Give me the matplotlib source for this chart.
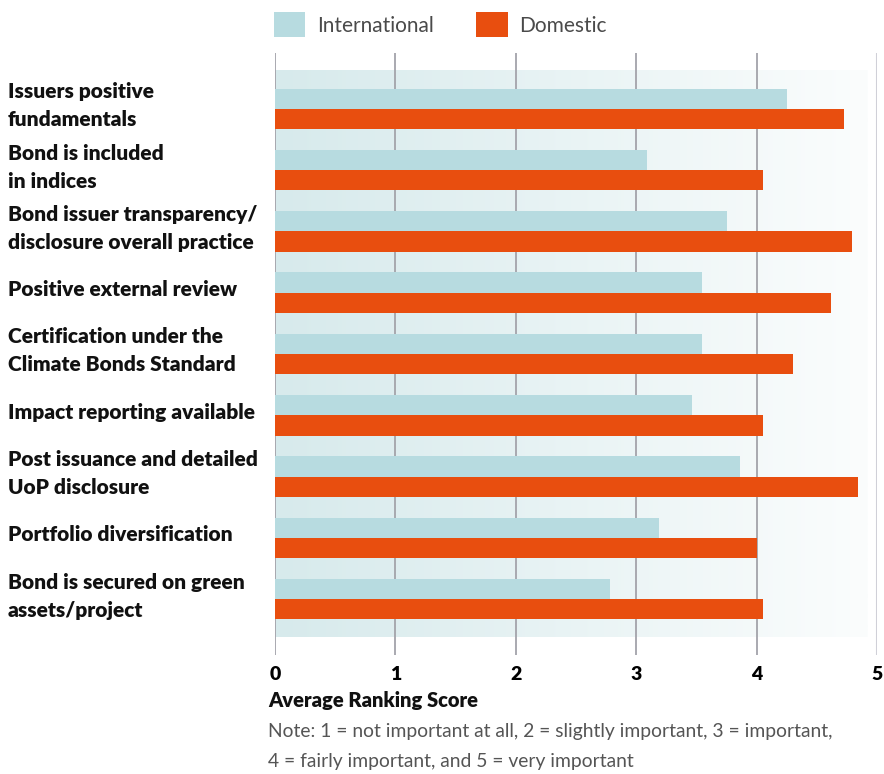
import numpy as np
import matplotlib
matplotlib.use("Agg")
import matplotlib.pyplot as plt
import matplotlib.transforms as mtransforms
from matplotlib.colors import LinearSegmentedColormap

# survey factors, top to bottom
factors = [
    "Issuers positive\nfundamentals",
    "Bond is included\nin indices",
    "Bond issuer transparency/\ndisclosure overall practice",
    "Positive external review",
    "Certification under the\nClimate Bonds Standard",
    "Impact reporting available",
    "Post issuance and detailed\nUoP disclosure",
    "Portfolio diversification",
    "Bond is secured on green\nassets/project",
]
international = [4.25, 3.09, 3.75, 3.55, 3.55, 3.46, 3.86, 3.19, 2.78]
domestic = [4.73, 4.05, 4.79, 4.62, 4.30, 4.05, 4.84, 4.00, 4.05]
score_ticks = [0, 1, 2, 3, 4, 5]

INTL_COLOR = "#b7dbe0"
DOM_COLOR = "#e84e0f"
FONT = "Lato"

plt.rcParams["font.family"] = [FONT, "DejaVu Sans"]

W, H = 884, 774
fig = plt.figure(figsize=(W / 100, H / 100), dpi=100)
ax = fig.add_axes([275 / W, 1 - 655 / H, (877 - 275) / W, (655 - 53) / H])

y = np.arange(len(factors))
bar_h = 0.33

# soft teal-to-white band behind the bars
grad = np.linspace(0, 1, 256).reshape(1, -1)
band_cmap = LinearSegmentedColormap.from_list("band", ["#d7eaec", "#fbfdfd"])
ax.imshow(grad, cmap=band_cmap, aspect="auto", zorder=0,
          extent=[0, 4.92, len(factors) - 1 + 0.62, -0.62])

for t in score_ticks[:-1]:
    ax.axvline(t, color="#a3a3aa", lw=1.3, zorder=1)
ax.axvline(score_ticks[-1], color="#d0d0d8", lw=2.2, zorder=1)

ax.barh(y - bar_h / 2, international, height=bar_h, color=INTL_COLOR,
        zorder=2, label="International")
ax.barh(y + bar_h / 2, domestic, height=bar_h, color=DOM_COLOR,
        zorder=2, label="Domestic")

ax.set_xlim(0, 5)
ax.set_ylim(len(factors) - 1 + 0.91, -0.91)
ax.set_xticks(score_ticks)
ax.set_xticklabels([str(t) for t in score_ticks], fontsize=14, fontweight="heavy")
ax.tick_params(axis="x", length=0, pad=8)
ax.set_yticks([])
for s in ax.spines.values():
    s.set_visible(False)

# row labels, left aligned at the figure edge
trans = mtransforms.blended_transform_factory(fig.transFigure, ax.transData)
for yi, name in zip(y, factors):
    fig.text(8 / W, yi - 0.05, name, transform=trans, ha="left", va="center",
             fontsize=15, fontweight="heavy", linespacing=1.56, color="#111111")

fig.legend(loc="upper left", bbox_to_anchor=(274 / W, 1 - 12 / H), ncol=2,
           frameon=False, handlelength=1.5, handleheight=1.5,
           handletextpad=0.55, columnspacing=2.05, borderaxespad=0, borderpad=0,
           prop={"family": FONT, "weight": "normal", "size": 15},
           labelcolor="#4a4a4a")

fig.text(268 / W, 1 - 700 / H, "Average Ranking Score", ha="left", va="center",
         fontsize=14.5, fontweight="heavy", color="#111111")
fig.text(268 / W, 1 - 731 / H,
         "Note: 1 = not important at all, 2 = slightly important, 3 = important,",
         ha="left", va="center", fontsize=13.9, fontweight="normal", color="#555555")
fig.text(268 / W, 1 - 762 / H, "4 = fairly important, and 5 = very important",
         ha="left", va="center", fontsize=13.9, fontweight="normal", color="#555555")

fig.savefig("out.png", dpi=100)
